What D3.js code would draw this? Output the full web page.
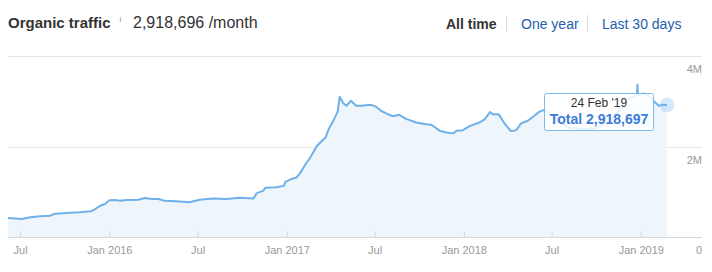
<!DOCTYPE html>
<html>
<head>
<meta charset="utf-8">
<script src="https://cdn.jsdelivr.net/npm/d3@7"></script>
<style>
  body { margin: 0; background: #fff; font-family: "Liberation Sans", Arial, Helvetica, sans-serif; }
  svg text { font-family: "Liberation Sans", Arial, Helvetica, sans-serif; }
</style>
</head>
<body>
<svg id="vis" width="712" height="272"></svg>
<script>
// organic traffic (thousands of visits / month)
const trafficDates = [
    "2015-06-06", "2015-07-05", "2015-07-22", "2015-08-11", "2015-09-01", "2015-09-11",
    "2015-10-05", "2015-11-01", "2015-11-25", "2015-12-02", "2015-12-13", "2015-12-23",
    "2016-01-01", "2016-01-12", "2016-01-23", "2016-02-06", "2016-03-01", "2016-03-14",
    "2016-03-28", "2016-04-11", "2016-04-24", "2016-05-18", "2016-06-15", "2016-07-05",
    "2016-08-02", "2016-08-29", "2016-09-26", "2016-10-24", "2016-10-31", "2016-11-13",
    "2016-11-18", "2016-12-10", "2016-12-26", "2016-12-29", "2017-01-10", "2017-01-20",
    "2017-01-27", "2017-02-10", "2017-02-18", "2017-03-04", "2017-03-13", "2017-03-22",
    "2017-03-29", "2017-04-06", "2017-04-16", "2017-04-20", "2017-04-27", "2017-05-04",
    "2017-05-13", "2017-05-24", "2017-06-04", "2017-06-14", "2017-06-24", "2017-07-04",
    "2017-07-14", "2017-07-25", "2017-08-07", "2017-08-21", "2017-09-04", "2017-09-25",
    "2017-10-15", "2017-10-26", "2017-11-12", "2017-11-26", "2017-12-10", "2017-12-17",
    "2017-12-30", "2018-01-13", "2018-02-02", "2018-02-13", "2018-02-24", "2018-03-02",
    "2018-03-14", "2018-03-26", "2018-04-08", "2018-04-19", "2018-04-29", "2018-05-13",
    "2018-05-25", "2018-06-06", "2018-06-16", "2018-06-30", "2018-07-17", "2018-08-06",
    "2018-09-06", "2018-10-01", "2018-10-28", "2018-11-17", "2018-12-02", "2018-12-18",
    "2018-12-24", "2018-12-25", "2018-12-26", "2019-01-07", "2019-01-17", "2019-01-29",
    "2019-02-07", "2019-02-14", "2019-02-24"
];

const trafficValues = [
    420, 400, 435, 460, 470, 515,
    530, 545, 570, 610, 690, 730,
    810, 820, 800, 820, 825, 860,
    840, 840, 800, 790, 770, 825,
    850, 840, 870, 850, 970, 1020,
    1090, 1100, 1130, 1220, 1280, 1310,
    1390, 1630, 1750, 2010, 2110, 2200,
    2400, 2550, 2770, 3100, 2960, 2900,
    3010, 2900, 2900, 2910, 2920, 2880,
    2790, 2730, 2670, 2700, 2610, 2530,
    2490, 2480, 2350, 2310, 2290, 2350,
    2360, 2450, 2530, 2600, 2760, 2710,
    2710, 2510, 2340, 2360, 2510, 2570,
    2670, 2770, 2810, 2700, 2550, 2420,
    2380, 2400, 2550, 2800, 3030, 3100,
    3150, 3370, 3140, 3170, 3130, 2990,
    2900, 2920, 2918.697
];

const xTickDates = ["2015-07-01", "2016-01-01", "2016-07-01", "2017-01-01",
                    "2017-07-01", "2018-01-01", "2018-07-01", "2019-01-01"];
const xTickLabels = ["Jul", "Jan 2016", "Jul", "Jan 2017", "Jul", "Jan 2018", "Jul", "Jan 2019"];

const yTicks = [0, 2000, 4000];
const yTickLabels = ["0", "2M", "4M"];

const tabLabels = ["All time", "One year", "Last 30 days"];

const headerTitle = "Organic traffic";
const headerValue = "2,918,696 /month";
const tooltipDate = "24 Feb '19";
const tooltipTotal = "Total 2,918,697";

var width = 712,
    height = 272;

const plot = {
    left: 8,
    right: 702,
    top: 56,
    bottom: 237,
    dataEnd: 667
};

var parseDate = d3.timeParse("%Y-%m-%d");

var data = trafficDates.map(function(d, i) {
    return { date: parseDate(d), value: trafficValues[i] };
});

var svg = d3.select("svg#vis");

var x = d3.scaleTime()
    .domain(d3.extent(data, d => d.date))
    .range([plot.left, plot.dataEnd]);

var y = d3.scaleLinear()
    .domain([0, 4000])
    .range([plot.bottom, plot.top]);

// header
svg.append("text")
    .attr("x", 8)
    .attr("y", 27.5)
    .style("font-size", "15px")
    .style("font-weight", "bold")
    .attr("fill", "#333")
    .text(headerTitle);

svg.append("text")
    .attr("x", 119.5)
    .attr("y", 22)
    .style("font-size", "8px")
    .attr("fill", "#999")
    .text("i");

svg.append("text")
    .attr("x", 133)
    .attr("y", 27.5)
    .style("font-size", "16px")
    .attr("fill", "#333")
    .text(headerValue);

// tabs on the right
var tabX = [446, 521, 602];
tabLabels.forEach(function(t, i) {
    svg.append("text")
        .attr("x", tabX[i])
        .attr("y", 28.5)
        .style("font-size", "14px")
        .style("font-weight", i == 0 ? "bold" : "normal")
        .attr("fill", i == 0 ? "#333" : "#1f5eae")
        .text(t);
});
[506.5, 587.5].forEach(function(sx) {
    svg.append("line")
        .attr("x1", sx).attr("x2", sx)
        .attr("y1", 15).attr("y2", 32)
        .attr("stroke", "#ddd");
});

// gridlines
var grid = svg.append("g").attr("id", "grid");
grid.selectAll("line")
    .data(yTicks.filter(d => d > 0))
    .enter()
    .append("line")
    .attr("x1", plot.left)
    .attr("x2", plot.right)
    .attr("y1", d => Math.round(y(d)) + 0.5)
    .attr("y2", d => Math.round(y(d)) + 0.5)
    .attr("stroke", "#e6e6e6");

// area + line
var area = d3.area()
    .x(d => x(d.date))
    .y0(y(0))
    .y1(d => y(d.value));

var line = d3.line()
    .x(d => x(d.date))
    .y(d => y(d.value));

svg.append("path")
    .datum(data)
    .attr("d", area)
    .attr("fill", "#eef6fb");

svg.append("path")
    .datum(data)
    .attr("d", line)
    .attr("fill", "none")
    .attr("stroke", "#6eb1ea")
    .attr("stroke-width", 2)
    .attr("stroke-linejoin", "round");

// x axis
var xAxis = d3.axisBottom(x)
    .tickValues(xTickDates.map(parseDate))
    .tickFormat((d, i) => xTickLabels[i])
    .tickSize(-6)
    .tickPadding(9);

var axisGroup = svg.append("g")
    .attr("id", "x-axis")
    .attr("transform", "translate(0," + (plot.bottom + 0.5) + ")")
    .call(xAxis);

axisGroup.select(".domain").remove();
axisGroup.selectAll("line").attr("stroke", "#d8d8d8");
axisGroup.selectAll("text")
    .attr("fill", "#999")
    .style("font-size", "11px");

svg.append("line")
    .attr("x1", plot.left)
    .attr("x2", plot.right)
    .attr("y1", plot.bottom + 0.5)
    .attr("y2", plot.bottom + 0.5)
    .attr("stroke", "#d8d8d8");

// y labels (right side, under the gridline)
svg.append("g")
    .attr("id", "y-labels")
    .selectAll("text")
    .data(yTicks)
    .enter()
    .append("text")
    .attr("x", plot.right)
    .attr("y", d => y(d) + 17)
    .attr("text-anchor", "end")
    .attr("fill", "#999")
    .style("font-size", "11px")
    .text((d, i) => yTickLabels[i]);

// hovered point
var last = data[data.length - 1];
svg.append("circle")
    .attr("cx", x(last.date))
    .attr("cy", y(last.value))
    .attr("r", 7.5)
    .attr("fill", "#7cb5ec")
    .attr("fill-opacity", 0.3);

// tooltip
var tip = svg.append("g").attr("id", "tooltip");
tip.append("rect")
    .attr("x", 544.5)
    .attr("y", 93.5)
    .attr("width", 109)
    .attr("height", 37)
    .attr("rx", 2)
    .attr("fill", "#fff")
    .attr("fill-opacity", 0.82)
    .attr("stroke", "#7fb8ec");

tip.append("text")
    .attr("x", 599)
    .attr("y", 107)
    .attr("text-anchor", "middle")
    .style("font-size", "12px")
    .attr("fill", "#333")
    .text(tooltipDate);

tip.append("text")
    .attr("x", 599)
    .attr("y", 124)
    .attr("text-anchor", "middle")
    .style("font-size", "14px")
    .style("font-weight", "bold")
    .attr("fill", "#3b7dd8")
    .text(tooltipTotal);
</script>
</body>
</html>
